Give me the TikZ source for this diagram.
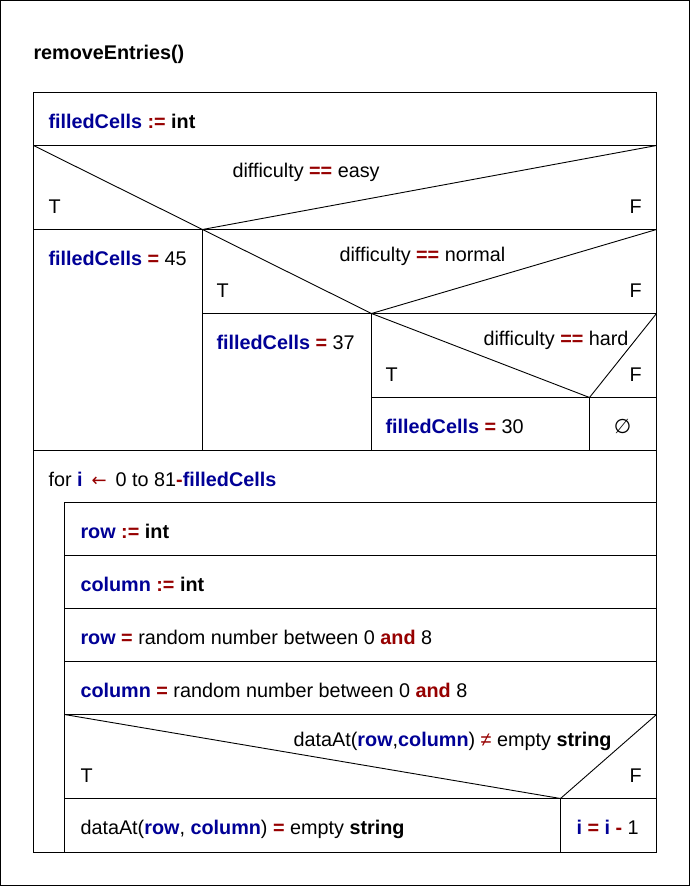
\documentclass[tikz,border=0pt]{standalone}
\usepackage{fontspec}
\setmainfont{Liberation Sans}[Ligatures=NoCommon]
\newfontfamily\symfont{DejaVu Sans}
\definecolor{varblue}{RGB}{0,0,150}
\definecolor{opred}{RGB}{150,0,0}
\newcommand{\myvar}[1]{\textcolor{varblue}{\textbf{#1}}}
\newcommand{\myop}[1]{\textcolor{opred}{\textbf{#1}}}
\newcommand{\mykw}[1]{\textbf{#1}}
\newcommand{\nsfont}{\fontsize{19.8}{23}\selectfont}
\begin{document}
\begin{tikzpicture}[x=1pt,y=-1pt,line width=1pt,
  txt/.style={anchor=base west,inner sep=0pt,font=\nsfont},
  txtr/.style={anchor=base east,inner sep=0pt,font=\nsfont},
  frame/.style={draw=black,line width=1pt},
  diag/.style={draw=black,line width=0.9pt}]
\useasboundingbox (0,0) rectangle (690,886);
\draw[frame] (0.5,0.5) rectangle (689.5,885.5);

% main structure coordinates
\coordinate (TL) at (33.5,92.5);
\coordinate (BR) at (656.5,852.5);
\draw[frame] (TL) rectangle (BR);
\draw[frame] (33.5,145.5) -- (656.5,145.5);
\draw[frame] (33.5,229.5) -- (656.5,229.5);
\draw[frame] (33.5,450.5) -- (656.5,450.5);

% decision 1
\coordinate (d1l) at (33.5,145.5);
\coordinate (d1a) at (202.5,229.5);
\coordinate (d1r) at (656.5,145.5);
\draw[diag] (d1l) -- (d1a) -- (d1r);
\draw[frame] (202.5,229.5) -- (202.5,450.5);

% decision 2
\coordinate (d2l) at (202.5,229.5);
\coordinate (d2a) at (371.5,313.5);
\coordinate (d2r) at (656.5,229.5);
\draw[frame] (202.5,313.5) -- (656.5,313.5);
\draw[diag] (d2l) -- (d2a) -- (d2r);
\draw[frame] (371.5,313.5) -- (371.5,450.5);

% decision 3
\coordinate (d3l) at (371.5,313.5);
\coordinate (d3a) at (589.5,397.5);
\coordinate (d3r) at (656.5,313.5);
\draw[frame] (371.5,397.5) -- (656.5,397.5);
\draw[diag] (d3l) -- (d3a) -- (d3r);
\draw[frame] (589.5,397.5) -- (589.5,450.5);

% loop body
\draw[frame] (64.5,502.5) rectangle (656.5,852.5);
\foreach \yy in {555.5,608.5,661.5,714.5,798.5}
  \draw[frame] (64.5,\yy) -- (656.5,\yy);
\coordinate (d4l) at (64.5,714.5);
\coordinate (d4a) at (560.5,798.5);
\coordinate (d4r) at (656.5,714.5);
\draw[diag] (d4l) -- (d4a) -- (d4r);
\draw[frame] (560.5,798.5) -- (560.5,852.5);

% texts
\node[txt] (title) at (33,59) {\mykw{removeEntries()}};
\node[txt] (decl) at (48,128) {\myvar{filledCells} \myop{:=} \mykw{int}};
\node[txt] (c1) at (232,177) {difficulty \myop{==} easy};
\node[txt] (t1) at (48,213) {T};
\node[txt] (f1) at (629,213) {F};
\node[txt] (s45) at (48,265) {\myvar{filledCells} \myop{=} 45};
\node[txt] (c2) at (339,261) {difficulty \myop{==} normal};
\node[txt] (t2) at (216,297) {T};
\node[txt] (f2) at (629,297) {F};
\node[txt] (s37) at (216,349) {\myvar{filledCells} \myop{=} 37};
\node[txtr] (c3) at (629,345) {difficulty \myop{==} hard};
\node[txt] (t3) at (385,381) {T};
\node[txt] (f3) at (629,381) {F};
\node[txt] (s30) at (385,433) {\myvar{filledCells} \myop{=} 30};
\node[inner sep=0pt,font=\symfont\fontsize{20}{22}\selectfont] (empty) at (622.5,426) {∅};
\node[txt] (loop) at (48,486) {for \myvar{i} \hspace{3.5pt}\textcolor{opred}{\symfont\fontsize{18}{20}\selectfont ←}\hspace{3.5pt} 0 to 81\myop{-}\myvar{filledCells}};
\node[txt] (r1) at (80,538) {\myvar{row} \myop{:=} \mykw{int}};
\node[txt] (r2) at (80,591) {\myvar{column} \myop{:=} \mykw{int}};
\node[txt] (r3) at (80,644) {\myvar{row} \myop{=} random number between 0 \myop{and} 8};
\node[txt] (r4) at (80,697) {\myvar{column} \myop{=} random number between 0 \myop{and} 8};
\node[txtr] (c4) at (612,746) {dataAt(\myvar{row},\myvar{column}) \textcolor{opred}{≠} empty \mykw{string}};
\node[txt] (t4) at (80,782) {T};
\node[txt] (f4) at (629,782) {F};
\node[txt] (s4) at (80,834) {dataAt(\myvar{row}, \myvar{column}) \myop{=} empty \mykw{string}};
\node[txt] (s5) at (576,834) {\myvar{i} \myop{=} \myvar{i} \myop{-} 1};
\end{tikzpicture}
\end{document}
